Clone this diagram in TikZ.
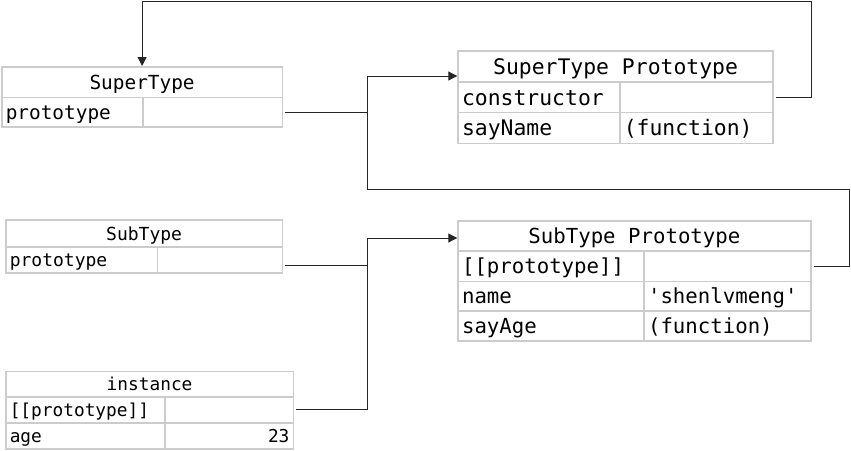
\documentclass[tikz,border=0pt]{standalone}
\usepackage{fontspec}
\setmonofont{DejaVu Sans Mono}
\usetikzlibrary{arrows.meta}
\tikzset{
  cellst/.style={draw=black!20, line width=1.5pt, rectangle, inner xsep=4pt, inner ysep=0pt,
    anchor=north west},
  conn/.style={draw=black!85, line width=1pt},
  arr/.style={conn, -{Triangle[length=9pt,width=9pt]}}
}
% name, x, y, w, h, align (l/c/r), font size, text
\newcommand\cellbox[8]{%
  \node[cellst, font=\ttfamily\fontsize{#7}{#7}\selectfont, minimum height=#5pt] (#1) at (#2,#3)
    {\makebox[\dimexpr#4pt-8pt\relax][#6]{\rule{0pt}{0.75em}\smash{#8}}};}
\begin{document}
\begin{tikzpicture}[x=1pt,y=-1pt]
\useasboundingbox (0,0) rectangle (851,450);
% SuperType
\cellbox{STh}{1}{66}{280.7}{30.7}{c}{19.4}{SuperType}
\cellbox{STk}{1}{96.7}{141.3}{29.3}{l}{19.4}{prototype}
\cellbox{STv}{142.3}{96.7}{139.4}{29.3}{l}{19.4}{}
% SubType
\cellbox{SBh}{5}{219}{276.7}{27}{c}{18}{SubType}
\cellbox{SBk}{5}{246}{151.7}{26.3}{l}{18}{prototype}
\cellbox{SBv}{156.7}{246}{125}{26.3}{l}{18}{}
% instance
\cellbox{INh}{5}{370.7}{287.7}{25.3}{c}{17.8}{instance}
\cellbox{INk1}{5}{396}{159.3}{26.3}{l}{17.8}{[[prototype]]}
\cellbox{INv1}{164.3}{396}{128.4}{26.3}{l}{17.8}{}
\cellbox{INk2}{5}{422.3}{159.3}{26}{l}{17.8}{age}
\cellbox{INv2}{164.3}{422.3}{128.4}{26}{r}{17.8}{23}
% SuperType Prototype
\cellbox{SPh}{457.3}{50}{315}{31}{c}{21.4}{SuperType Prototype}
\cellbox{SPk1}{457.3}{81}{161.7}{30.7}{l}{21.4}{constructor}
\cellbox{SPv1}{619}{81}{153.3}{30.7}{l}{21.4}{}
\cellbox{SPk2}{457.3}{111.7}{161.7}{31}{l}{21.4}{sayName}
\cellbox{SPv2}{619}{111.7}{153.3}{31}{l}{21.4}{(function)}
% SubType Prototype
\cellbox{SBPh}{457.3}{220}{352.7}{30}{c}{20.7}{SubType Prototype}
\cellbox{SBPk1}{457.3}{250}{186}{30.7}{l}{20.7}{[[prototype]]}
\cellbox{SBPv1}{643.3}{250}{166.7}{30.7}{l}{20.7}{}
\cellbox{SBPk2}{457.3}{280.7}{186}{29.3}{l}{20.7}{name}
\cellbox{SBPv2}{643.3}{280.7}{166.7}{29.3}{l}{20.7}{'shenlvmeng'}
\cellbox{SBPk3}{457.3}{310}{186}{30}{l}{20.7}{sayAge}
\cellbox{SBPv3}{643.3}{310}{166.7}{30}{l}{20.7}{(function)}
% junctions
\coordinate (ja) at (367,76);
\coordinate (jb) at (367,189);
\coordinate (jc) at (849,189);
\coordinate (jd) at (811.5,1.5);
\coordinate (je) at (367,238);
\coordinate (jf) at (367,408);
\coordinate (jg) at (367,265);
% connectors
\draw[conn] ([xshift=2pt]STv.east) -- (ja |- STv.east);
\draw[arr] ([xshift=2pt]SBPv1.east) -- (jc |- SBPv1.east) -- (jc) -- (jb) -- (ja) -- (SPh.west |- ja);
\draw[arr] ([xshift=2pt]SPv1.east) -- (jd |- SPv1.east) -- (jd) -- (STh.north |- jd) -- (STh.north);
\draw[conn] ([xshift=2pt]SBv.east |- jg) -- (jg);
\draw[arr] ([xshift=2pt]INv1.east) -- (jf |- INv1.east) -- (je) -- (SBPh.west |- je);
\end{tikzpicture}
\end{document}
